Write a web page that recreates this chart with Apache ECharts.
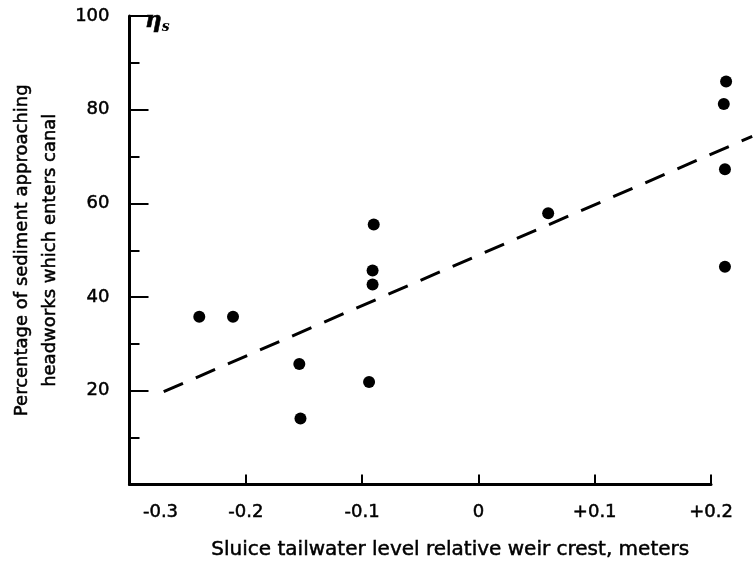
<!DOCTYPE html>
<html>
<head>
<meta charset="utf-8">
<script src="https://cdn.jsdelivr.net/npm/echarts/dist/echarts.min.js"></script>
<style>
html,body{margin:0;padding:0;background:#fff;}
#c{width:753px;height:571px;}
</style>
</head>
<body>
<div id="c"></div>
<script>
// ---- data ----
const xTickValues = [-0.3, -0.2, -0.1, 0, 0.1, 0.2];
const xTickLabels = ['-0.3', '-0.2', '-0.1', '0', '+0.1', '+0.2'];
const yTickValues = [20, 40, 60, 80, 100];
const yTickLabels = ['20', '40', '60', '80', '100'];

const pointsX = [-0.240, -0.211, -0.154, -0.153, -0.094, -0.091, -0.091, -0.090, 0.060, 0.213, 0.211, 0.212, 0.212];
const pointsY = [35.8, 35.8, 25.7, 14.1, 21.9, 42.7, 45.7, 55.5, 57.9, 86.0, 81.2, 67.3, 46.5];

const trendX = [-0.265, 0.235];
const trendY = [19.8, 74.3];

const xName = 'Sluice tailwater level relative weir crest, meters';
const yName = 'Percentage of sediment approaching\nheadworks which enters canal';
const etaName = '{e|η}{s|s}';

// ---- chart ----
const FONT = 'DejaVu Sans';
const W = 753, GL = 122.5, GR = 42, GT = 16, GB = 86.5;
const X_MIN = -0.3, X_MAX = 0.2;
// second (invisible) grid spans to the right edge with the same scale, so the trend line can run past +0.2
const X_MAX_WIDE = X_MIN + (W - GL) * (X_MAX - X_MIN) / (W - GL - GR);

const points = pointsX.map((x, i) => [x, pointsY[i]]);
const trend = trendX.map((x, i) => [x, trendY[i]]);

const TXT = {color: '#000', fontFamily: FONT, textBorderColor: '#000', textBorderWidth: 0.5};

function xLabel(v) {
  const i = xTickValues.findIndex(t => Math.abs(t - v) < 1e-6);
  if (i < 0) return '';
  if (i === 0) return '{first|' + xTickLabels[i] + '}';
  return xTickLabels[i];
}
function yLabel(v) {
  const i = yTickValues.findIndex(t => Math.abs(t - v) < 1e-6);
  return i < 0 ? '' : yTickLabels[i];
}

const chart = echarts.init(document.getElementById('c'), null, {renderer: 'canvas'});
chart.setOption({
  animation: false,
  backgroundColor: '#ffffff',
  title: {
    text: etaName, left: 145, top: 8, padding: 0,
    textStyle: {
      rich: {
        e: {fontFamily: 'DejaVu Serif', fontStyle: 'italic', fontSize: 23, color: '#000', textBorderColor: '#000', textBorderWidth: 0.6},
        s: {fontFamily: 'DejaVu Serif', fontStyle: 'italic', fontWeight: 'bold', fontSize: 14, color: '#000', padding: [12, 0, 0, 0]}
      }
    }
  },
  grid: [
    {left: GL, right: GR, top: GT, bottom: GB, containLabel: false},
    {left: GL, right: 0, top: GT, bottom: GB, containLabel: false}
  ],
  xAxis: [{
    type: 'value', gridIndex: 0, min: X_MIN, max: X_MAX, interval: 0.1,
    axisLine: {show: true, onZero: false, lineStyle: {color: '#000', width: 3}},
    axisTick: {show: true, inside: true, length: 10, lineStyle: {color: '#000', width: 2}},
    splitLine: {show: false},
    axisLabel: Object.assign({
      margin: 19, fontSize: 18, formatter: xLabel,
      rich: {first: Object.assign({padding: [0, 0, 0, 62], fontSize: 18}, TXT)}
    }, TXT),
    name: xName, nameLocation: 'middle', nameGap: 55,
    nameTextStyle: Object.assign({fontSize: 20, padding: [0, 0, 0, 60]}, TXT)
  }, {
    type: 'value', gridIndex: 1, min: X_MIN, max: X_MAX_WIDE, show: false
  }],
  yAxis: [{
    type: 'value', gridIndex: 0, min: 0, max: 100, interval: 20,
    axisLine: {show: true, onZero: false, lineStyle: {color: '#000', width: 3}},
    axisTick: {show: true, inside: true, length: 19, lineStyle: {color: '#000', width: 2}},
    minorTick: {show: true, splitNumber: 2, length: 10, lineStyle: {color: '#000', width: 2}},
    splitLine: {show: false},
    minorSplitLine: {show: false},
    axisLabel: Object.assign({margin: 20, fontSize: 18, formatter: yLabel}, TXT),
    name: yName, nameLocation: 'middle', nameRotate: 90, nameGap: 58,
    nameTextStyle: Object.assign({fontSize: 18, lineHeight: 28}, TXT)
  }, {
    type: 'value', gridIndex: 1, min: 0, max: 100, show: false
  }],
  series: [{
    type: 'line', xAxisIndex: 1, yAxisIndex: 1, data: trend, symbol: 'none', silent: true,
    lineStyle: {color: '#000', width: 3, type: [21, 14]}
  }, {
    type: 'scatter', xAxisIndex: 0, yAxisIndex: 0, data: points, symbol: 'circle', symbolSize: 12, clip: false,
    itemStyle: {color: '#000', opacity: 1}
  }]
});
</script>
</body>
</html>
